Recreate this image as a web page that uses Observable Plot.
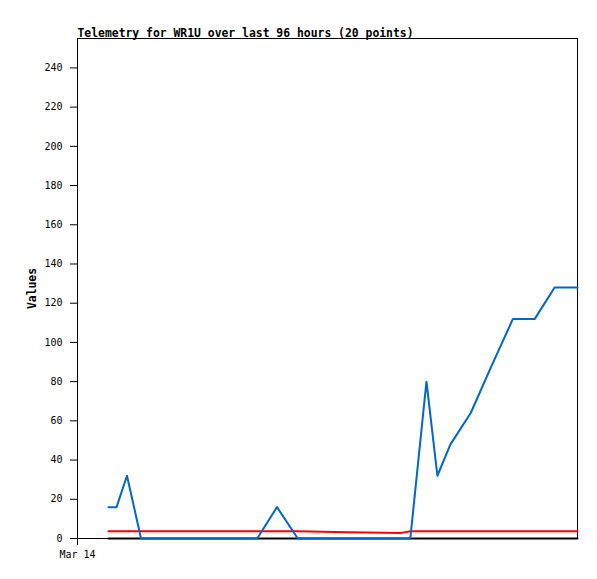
<!DOCTYPE html>
<html>
<head>
<meta charset="utf-8">
<script src="https://cdn.jsdelivr.net/npm/d3@7"></script>
<script src="https://cdn.jsdelivr.net/npm/@observablehq/plot@0.6"></script>
<style>
  html, body { margin: 0; padding: 0; background: #fff; }
  #chart svg { display: block; }
</style>
</head>
<body>
<div id="chart"></div>
<script>
// Data (hours since Mar 14 00:00)
const hours = [5.95, 7.5, 9.5, 12.2, 23.2, 34.5, 38.3, 42.3, 52.0, 62.0, 63.9, 67.0, 69.1, 71.6, 75.5, 79.5, 83.6, 87.8, 91.6, 96];
const blueValues = [16, 16, 32, 0, 0, 0, 16, 0, 0, 0, 0, 80, 32, 48, 64, 88, 112, 112, 128, 128];
const redValues = [3.75, 3.75, 3.75, 3.75, 3.75, 3.75, 3.75, 3.75, 3.25, 2.75, 3.75, 3.75, 3.75, 3.75, 3.75, 3.75, 3.75, 3.75, 3.75, 3.75];
const blackValues = [0, 0, 0, 0, 0, 0, 0, 0, 0, 0, 0, 0, 0, 0, 0, 0, 0, 0, 0, 0];
const yTicks = [0, 20, 40, 60, 80, 100, 120, 140, 160, 180, 200, 220, 240];
const xTickHours = [0];
const xTickLabels = ["Mar 14"];
const titleText = "Telemetry for WR1U over last 96 hours (20 points)";
const yLabel = "Values";

const rows = hours.map((h, i) => ({h, blue: blueValues[i], red: redValues[i], black: blackValues[i]}));

const chart = Plot.plot({
  width: 597,
  height: 579,
  marginLeft: 77,
  marginRight: 20,
  marginTop: 38,
  marginBottom: 41,
  style: {fontFamily: "'DejaVu Sans Mono', monospace", fontSize: "10px", background: "#fff", color: "#000"},
  x: {domain: [0, 96], ticks: xTickHours, tickFormat: (d, i) => xTickLabels[i], tickSize: 7, tickPadding: 5, label: null},
  y: {domain: [0, 255], ticks: yTicks, tickSize: 7, tickPadding: 8, label: null},
  marks: [
    Plot.frame({stroke: "#000", strokeOpacity: 1}),
    Plot.lineY(rows, {x: "h", y: "black", stroke: "#000", strokeWidth: 2}),
    Plot.lineY(rows, {x: "h", y: "red", stroke: "#ff0000", strokeWidth: 2}),
    Plot.lineY(rows, {x: "h", y: "blue", stroke: "#0066cc", strokeWidth: 2}),
    Plot.text([titleText], {frameAnchor: "top-left", text: d => d, textAnchor: "start", lineAnchor: "bottom", dy: -2, fontWeight: "bold", fontSize: 11.4}),
    Plot.text([yLabel], {frameAnchor: "left", text: d => d, textAnchor: "middle", lineAnchor: "middle", rotate: -90, dx: -45.5, fontWeight: "bold", fontSize: 11.4})
  ]
});
document.getElementById("chart").appendChild(chart);
</script>
</body>
</html>
